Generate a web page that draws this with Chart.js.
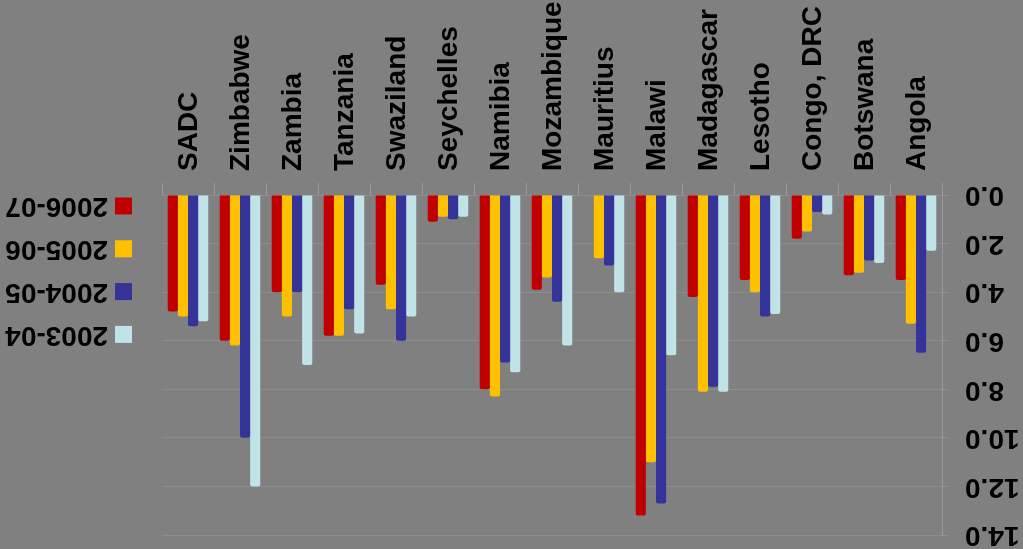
<!DOCTYPE html>
<html>
<head>
<meta charset="utf-8">
<script src="https://cdn.jsdelivr.net/npm/chart.js@4/dist/chart.umd.min.js"></script>
<style>
  html, body { margin: 0; padding: 0; background: #808080; }
  canvas { display: block; }
</style>
</head>
<body>
<canvas id="c" width="1023" height="549"></canvas>
<script>
const categories = ['SADC','Zimbabwe','Zambia','Tanzania','Swaziland','Seychelles','Namibia','Mozambique','Mauritius','Malawi','Madagascar','Lesotho','Congo, DRC','Botswana','Angola'];
const seriesLabels = ['2006-07','2005-06','2004-05','2003-04'];
const s200607 = [4.8, 6.0, 4.0, 5.8, 3.7, 1.1, 8.0, 3.9, null, 13.2, 4.2, 3.5, 1.8, 3.3, 3.5];
const s200506 = [5.0, 6.2, 5.0, 5.8, 4.7, 0.9, 8.3, 3.4, 2.6, 11.0, 8.1, 4.0, 1.5, 3.2, 5.3];
const s200405 = [5.4, 10.0, 4.0, 4.7, 6.0, 1.0, 6.9, 4.4, 2.9, 12.7, 7.9, 5.0, 0.7, 2.7, 6.5];
const s200304 = [5.2, 12.0, 7.0, 5.7, 5.0, 0.9, 7.3, 6.2, 4.0, 6.6, 8.1, 4.9, 0.8, 2.8, 2.3];
const seriesColors = ['#C00000','#FFC000','#333399','#BFE3E6'];
const yMin = 0, yMax = 14, yStep = 2;

const FONT = '"Liberation Sans", Arial, sans-serif';

const flippedText = {
  id: 'flippedText',
  afterDraw(chart) {
    const ctx = chart.ctx;
    ctx.save();
    ctx.fillStyle = '#000';
    ctx.font = 'bold 28px ' + FONT;
    ctx.textBaseline = 'middle';
    // y tick labels, rotated 180 degrees
    const ys = chart.scales.y;
    ys.ticks.forEach((t, i) => {
      const y = ys.getPixelForTick(i);
      ctx.save();
      ctx.translate(965, y);
      ctx.rotate(Math.PI);
      ctx.textAlign = 'right';
      ctx.fillText(Number(t.value).toFixed(1), 0, 0);
      ctx.restore();
    });
    // legend, rotated text
    chart.data.datasets.forEach((ds, i) => {
      const cy = 206 + i * 42.8;
      ctx.fillStyle = ds.backgroundColor;
      ctx.fillRect(115, cy - 8.5, 17, 17);
      ctx.fillStyle = '#000';
      ctx.save();
      ctx.translate(108, cy);
      ctx.rotate(Math.PI);
      ctx.textAlign = 'left';
      ctx.fillText(ds.label, 0, 0);
      ctx.restore();
    });
    ctx.restore();
  }
};

new Chart(document.getElementById('c'), {
  type: 'bar',
  data: {
    labels: categories,
    datasets: [
      { label: seriesLabels[0], data: s200607, backgroundColor: seriesColors[0] },
      { label: seriesLabels[1], data: s200506, backgroundColor: seriesColors[1] },
      { label: seriesLabels[2], data: s200405, backgroundColor: seriesColors[2] },
      { label: seriesLabels[3], data: s200304, backgroundColor: seriesColors[3] }
    ]
  },
  options: {
    responsive: false,
    animation: false,
    layout: { padding: { left: 162, bottom: 14, top: 0, right: 0 } },
    datasets: {
      bar: { categoryPercentage: 0.78, barPercentage: 1.0, borderRadius: 2, borderSkipped: 'start' }
    },
    plugins: {
      legend: { display: false },
      tooltip: { enabled: false }
    },
    scales: {
      x: {
        position: 'top',
        grid: { drawOnChartArea: false, drawTicks: true, tickLength: 12, color: '#9a9a9a', offset: true },
        border: { display: false },
        ticks: {
          autoSkip: false, maxRotation: 90, minRotation: 90, padding: 12, labelOffset: 35,
          color: '#000', font: { family: FONT, size: 28, weight: 'bold' }
        },
        afterFit(scale) { scale.height = 195; }
      },
      y: {
        position: 'right',
        reverse: true,
        min: yMin, max: yMax,
        grid: { color: '#8d8d8d', tickLength: 7, lineWidth: 1 },
        border: { display: true, color: '#9a9a9a' },
        ticks: { stepSize: yStep, color: 'rgba(0,0,0,0)', font: { size: 10 } },
        afterFit(scale) { scale.width = 81; }
      }
    }
  },
  plugins: [flippedText]
});
</script>
</body>
</html>
